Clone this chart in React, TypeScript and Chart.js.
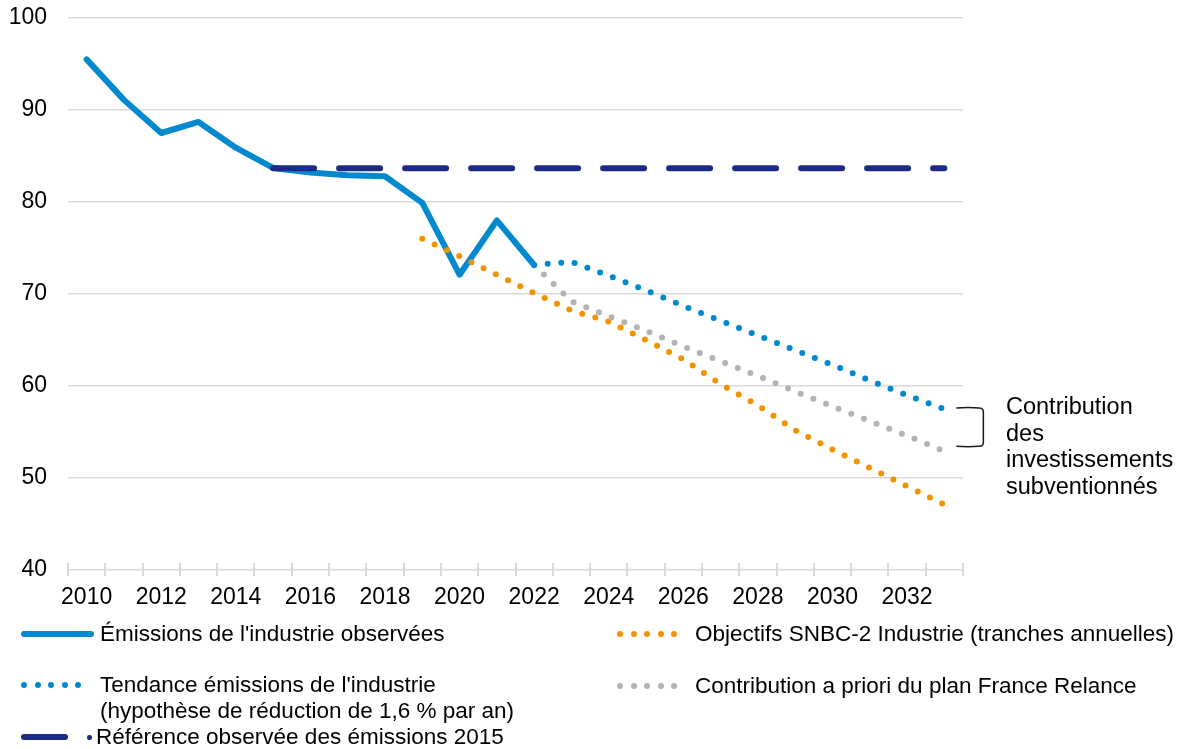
import React, { useEffect, useRef } from "react";
import { Chart, registerables } from "chart.js";

Chart.register(...registerables);

const years = [
  2010, 2011, 2012, 2013, 2014, 2015, 2016, 2017, 2018, 2019, 2020, 2021,
  2022, 2023, 2024, 2025, 2026, 2027, 2028, 2029, 2030, 2031, 2032, 2033,
];

const N = null;

const observed = [95.5, 91.1, 87.5, 88.7, 85.9, 83.7, 83.2, 82.9, 82.8, 79.9, 72.1, 78.0, 73.15,
  N, N, N, N, N, N, N, N, N, N, N];

const reference2015 = [N, N, N, N, N, 83.67, 83.67, 83.67, 83.67, 83.67, 83.67, 83.67, 83.67,
  83.67, 83.67, 83.67, 83.67, 83.67, 83.67, 83.67, 83.67, 83.67, 83.67, 83.67];

const objectifs = [N, N, N, N, N, N, N, N, N, 76.0, 74.1, 72.1, 70.1,
  68.2, 67.0, 65.0, 62.9, 60.2, 57.9, 55.2, 53.1, 51.1, 49.1, 47.1];

const tendance = [N, N, N, N, N, N, N, N, N, N, N, N, 73.15,
  73.5, 72.0, 70.4, 68.7, 67.1, 65.5, 63.9, 62.3, 60.6, 59.0, 57.5];

const contribution = [N, N, N, N, N, N, N, N, N, N, N, N, 73.15,
  69.2, 67.6, 66.0, 64.3, 62.7, 61.1, 59.4, 57.8, 56.2, 54.6, 52.9];

const yTicks = [40, 50, 60, 70, 80, 90, 100];

const BLUE = "#0089cf";
const NAVY = "#1b2a86";
const ORANGE = "#f39200";
const GREY = "#b3b3b3";
const GRID = "#d9d9d9";
const FONT = "'Liberation Sans', Arial, sans-serif";

const W = 1186;
const H = 749;

const axisTicksPlugin = {
  id: "axisTicks",
  beforeDatasetsDraw(chart: any) {
    const { ctx, chartArea } = chart;
    const n = years.length;
    const step = (chartArea.right - chartArea.left) / n;
    ctx.save();
    ctx.strokeStyle = GRID;
    ctx.lineWidth = 2;
    for (let i = 0; i <= n; i++) {
      const x = Math.round(chartArea.left + i * step);
      ctx.beginPath();
      ctx.moveTo(x, chartArea.bottom - 7);
      ctx.lineTo(x, chartArea.bottom + 6);
      ctx.stroke();
    }
    ctx.restore();
  },
};

const bracketPlugin = {
  id: "bracket",
  afterDraw(chart: any) {
    const { ctx } = chart;
    const xs = chart.scales.x;
    const ys = chart.scales.y;
    const last = years.length - 1;
    const xEnd = xs.getPixelForValue(last);
    const x0 = xEnd + 12;
    const x1 = xEnd + 39;
    const yT = ys.getPixelForValue(tendance[last] as number) - 1;
    const yB = ys.getPixelForValue(contribution[last] as number) - 5;
    ctx.save();
    ctx.strokeStyle = "#1a1a1a";
    ctx.lineWidth = 1.5;
    ctx.beginPath();
    ctx.moveTo(x0, yT);
    ctx.quadraticCurveTo(x0 + 12, yT - 0.8, x1 - 4, yT);
    ctx.quadraticCurveTo(x1, yT, x1, yT + 4);
    ctx.lineTo(x1, yB - 4);
    ctx.quadraticCurveTo(x1, yB, x1 - 4, yB);
    ctx.quadraticCurveTo(x0 + 12, yB + 0.8, x0, yB);
    ctx.stroke();
    ctx.restore();
  },
};

function Dots({ left, top, color }: { left: number; top: number; color: string }) {
  const items = [0, 1, 2, 3, 4];
  return (
    <>
      {items.map((i) => (
        <div
          key={i}
          style={{
            position: "absolute",
            left: left + i * 13.5 - 3,
            top: top - 3,
            width: 6,
            height: 6,
            borderRadius: "50%",
            background: color,
          }}
        />
      ))}
    </>
  );
}

const textStyle: React.CSSProperties = {
  position: "absolute",
  fontFamily: FONT,
  fontSize: 22.5,
  lineHeight: "26px",
  color: "#000",
  whiteSpace: "nowrap",
};

export default function App() {
  const ref = useRef<HTMLCanvasElement | null>(null);

  useEffect(() => {
    if (!ref.current) return;
    const chart = new Chart(ref.current, {
      type: "line",
      data: {
        labels: years.map(String),
        datasets: [
          {
            label: "Émissions de l'industrie observées",
            data: observed,
            borderColor: BLUE,
            borderWidth: 6,
            borderCapStyle: "round",
            borderJoinStyle: "round",
            pointRadius: 0,
            order: 5,
          },
          {
            label: "Référence observée des émissions 2015",
            data: reference2015,
            borderColor: NAVY,
            borderWidth: 6,
            borderCapStyle: "round",
            borderDash: [41, 25],
            pointRadius: 0,
            order: 4,
          },
          {
            label: "Objectifs SNBC-2 Industrie (tranches annuelles)",
            data: objectifs,
            borderColor: ORANGE,
            borderWidth: 6,
            borderCapStyle: "round",
            borderDash: [0, 13.6],
            pointRadius: 0,
            order: 3,
          },
          {
            label: "Contribution a priori du plan France Relance",
            data: contribution,
            borderColor: GREY,
            borderWidth: 6,
            borderCapStyle: "round",
            borderDash: [0, 13.6],
            pointRadius: 0,
            order: 2,
          },
          {
            label: "Tendance émissions de l'industrie",
            data: tendance,
            borderColor: BLUE,
            borderWidth: 6,
            borderCapStyle: "round",
            borderDash: [0, 13.6],
            pointRadius: 0,
            order: 1,
          },
        ],
      },
      options: {
        responsive: false,
        animation: false,
        devicePixelRatio: 1,
        layout: { padding: { left: 0, right: W - 963, top: 18, bottom: 0 } },
        plugins: {
          legend: { display: false },
          tooltip: { enabled: false },
        },
        scales: {
          x: {
            type: "category",
            offset: true,
            grid: { display: false, drawTicks: false },
            border: { display: false },
            ticks: {
              autoSkip: false,
              maxRotation: 0,
              minRotation: 0,
              padding: 14,
              color: "#000",
              font: { family: FONT, size: 23 },
              callback: (_v: any, i: number) => (years[i] % 2 === 0 ? String(years[i]) : ""),
            },
            afterFit: (s: any) => {
              s.height = H - 570;
              s.paddingLeft = 0;
              s.paddingRight = 0;
            },
          },
          y: {
            min: 40,
            max: 100,
            afterBuildTicks: (s: any) => {
              s.ticks = yTicks.map((v) => ({ value: v }));
            },
            grid: { color: GRID, lineWidth: 1.5, drawTicks: false },
            border: { display: false },
            ticks: {
              padding: 21,
              color: "#000",
              font: { family: FONT, size: 23 },
            },
            afterFit: (s: any) => {
              s.width = 68;
              s.paddingTop = 0;
              s.paddingBottom = 0;
            },
          },
        },
      },
      plugins: [axisTicksPlugin, bracketPlugin],
    } as any);
    return () => chart.destroy();
  }, []);

  return (
    <div style={{ position: "absolute", left: 0, top: 0, width: W, height: H, background: "#fff" }}>
      <canvas ref={ref} width={W} height={H} style={{ position: "absolute", left: 0, top: 0 }} />

      {/* Legend */}
      <div style={{ position: "absolute", left: 21, top: 631, width: 73, height: 6, borderRadius: 3, background: BLUE }} />
      <div style={{ ...textStyle, left: 100, top: 621 }}>Émissions de l'industrie observées</div>

      <Dots left={620} top={634} color={ORANGE} />
      <div style={{ ...textStyle, left: 695, top: 621 }}>Objectifs SNBC-2 Industrie (tranches annuelles)</div>

      <Dots left={24} top={685} color={BLUE} />
      <div style={{ ...textStyle, left: 100, top: 672 }}>
        Tendance émissions de l'industrie
        <br />
        (hypothèse de réduction de 1,6 % par an)
      </div>

      <Dots left={620} top={686} color={GREY} />
      <div style={{ ...textStyle, left: 695, top: 673 }}>Contribution a priori du plan France Relance</div>

      <div style={{ position: "absolute", left: 21, top: 734, width: 47, height: 6, borderRadius: 3, background: NAVY }} />
      <div style={{ position: "absolute", left: 87, top: 735, width: 4.5, height: 4.5, borderRadius: "50%", background: NAVY }} />
      <div style={{ ...textStyle, left: 96, top: 724 }}>Référence observée des émissions 2015</div>

      {/* Annotation */}
      <div style={{ ...textStyle, fontSize: 23.5, lineHeight: "26.7px", left: 1006, top: 393, whiteSpace: "normal", width: 175 }}>
        Contribution
        <br />
        des
        <br />
        investissements
        <br />
        subventionnés
      </div>
    </div>
  );
}
